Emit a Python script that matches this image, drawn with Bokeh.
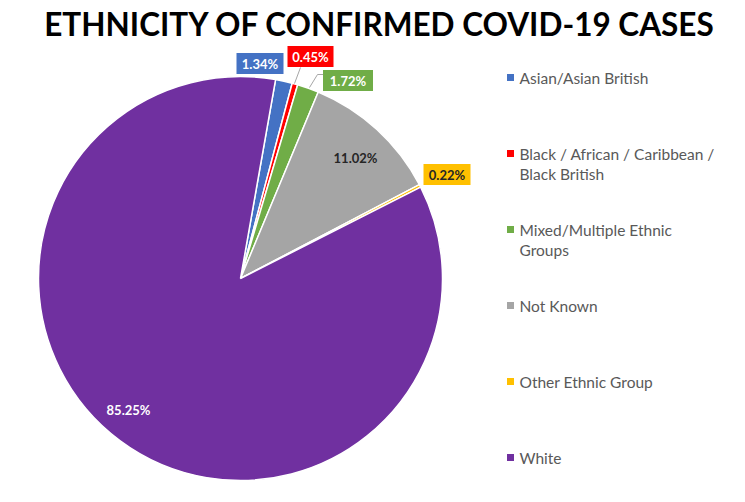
import math
from bokeh.plotting import figure
from bokeh.models import Range1d
from bokeh.core.properties import value
from bokeh.embed import file_html
from bokeh.resources import INLINE

# ---- data ----
categories = ["Asian/Asian British", "Black / African / Caribbean / Black British",
              "Mixed/Multiple Ethnic Groups", "Not Known", "Other Ethnic Group", "White"]
legend_lines = [["Asian/Asian British"],
                ["Black / African / Caribbean /", "Black British"],
                ["Mixed/Multiple Ethnic", "Groups"],
                ["Not Known"],
                ["Other Ethnic Group"],
                ["White"]]
percentages = [1.34, 0.45, 1.72, 11.02, 0.22, 85.25]
colors = ["#4472C4", "#FF0000", "#70AD47", "#A5A5A5", "#FFC000", "#7030A0"]
label_text_colors = ["white", "white", "white", "#262626", "#262626", "white"]
label_boxed = [True, True, True, False, True, False]

# ---- layout (screen pixel positions, y measured from top) ----
W, H = 729, 486
def Y(y):
    return H - y

CX, CY, R = 240, Y(278), 202
OFFSET_DEG = 10.0
label_pos = [(259.5, 63), (310, 56), (347.5, 80), (355, 157), (446.5, 174), (128, 409)]
box_w = [47, 46, 50, 0, 47, 0]
box_h = 21

p = figure(width=W, height=H, output_backend="svg", toolbar_location=None,
           x_range=Range1d(0, W), y_range=Range1d(0, H), min_border=0)
p.axis.visible = False
p.grid.visible = False
p.outline_line_color = None
p.background_fill_color = "white"
p.border_fill_color = "white"

total = sum(percentages)
starts, ends = [], []
cum = 0.0
for v in percentages:
    a0 = math.pi / 2 - math.radians(OFFSET_DEG) - cum / total * 2 * math.pi
    cum += v
    a1 = math.pi / 2 - math.radians(OFFSET_DEG) - cum / total * 2 * math.pi
    starts.append(a0)
    ends.append(a1)

p.wedge(x=[CX] * len(percentages), y=[CY] * len(percentages), radius=R,
        start_angle=starts, end_angle=ends, direction="clock",
        fill_color=colors, line_color="white", line_width=1.5)

# leader lines
p.line(x=[300, 294], y=[Y(67), Y(83)], line_color="#A6A6A6", line_width=1)
p.line(x=[323, 317, 309], y=[Y(74), Y(74), Y(87)], line_color="#A6A6A6", line_width=1)

# labels
for i, v in enumerate(percentages):
    lx, ly = label_pos[i]
    if label_boxed[i]:
        p.rect(x=[lx], y=[Y(ly)], width=box_w[i], height=box_h,
               fill_color=colors[i], line_color=None)
    p.text(x=[lx], y=[Y(ly)], text=[f"{v:.2f}%"], text_align="center",
           text_baseline="middle", text_font=value("Lato"), text_font_style="bold",
           text_font_size="13px", text_color=label_text_colors[i])

# title
p.text(x=[379.5], y=[Y(23)], text=["ETHNICITY OF CONFIRMED COVID-19 CASES"],
       text_align="center", text_baseline="middle", text_font=value("Lato"),
       text_font_style="bold", text_font_size="31.5px", text_color="black")

# legend
leg_y0 = 77
for i, lines in enumerate(legend_lines):
    y = leg_y0 + i * 76
    p.rect(x=[510], y=[Y(y)], width=7, height=7, fill_color=colors[i], line_color=None)
    for j, t in enumerate(lines):
        p.text(x=[519], y=[Y(y + j * 20)], text=[t], text_align="left",
               text_baseline="middle", text_font=value("Lato"),
               text_font_size="15.5px", text_color="#595959")

open("out.html", "w").write(file_html(p, INLINE))
